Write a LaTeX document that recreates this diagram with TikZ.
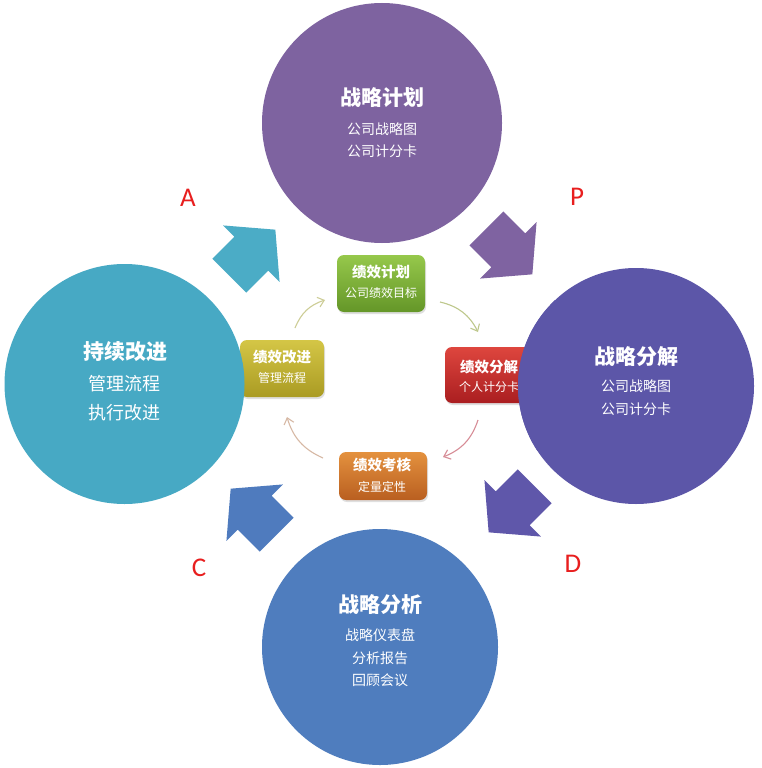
\documentclass[tikz,border=0pt]{standalone}
\usepackage{fontspec}
\newfontfamily\cjk{Noto Sans CJK SC}
\newfontfamily\latn{Carlito}
\usetikzlibrary{arrows.meta,shadows}
\definecolor{cTop}{RGB}{126,99,160}
\definecolor{cRight}{RGB}{92,86,168}
\definecolor{cBot}{RGB}{79,125,190}
\definecolor{cLeft}{RGB}{71,169,196}
\definecolor{aA}{RGB}{75,172,198}
\definecolor{aP}{RGB}{127,99,161}
\definecolor{aC}{RGB}{79,123,190}
\definecolor{aD}{RGB}{95,87,170}
\definecolor{lblred}{RGB}{232,30,30}
\definecolor{gT}{RGB}{150,200,75}\definecolor{gB}{RGB}{100,150,40}
\definecolor{rT}{RGB}{222,70,62}\definecolor{rB}{RGB}{170,30,32}
\definecolor{oT}{RGB}{228,145,62}\definecolor{oB}{RGB}{185,95,32}
\definecolor{yT}{RGB}{212,198,70}\definecolor{yB}{RGB}{170,155,35}
\definecolor{l1}{RGB}{190,200,140}
\definecolor{l2}{RGB}{215,140,150}
\definecolor{l3}{RGB}{215,185,165}
\definecolor{l4}{RGB}{205,205,150}
\newcommand\blockarr[4]{\fill[#4, shift={(#1,#2)}, rotate=#3] (-32,-24) -- (-1,-24) -- (-1,-40) -- (33,0) -- (-1,40) -- (-1,24) -- (-32,24) -- cycle;}
\tikzset{
  bigcirc/.style={circle, minimum size=#1, inner sep=0pt},
  ctitle/.style={text=white, font=\cjk\bfseries\fontsize{21}{21}\selectfont},
  csub/.style={text=white, font=\cjk\fontsize{14}{14}\selectfont},
  csubL/.style={text=white, font=\cjk\fontsize{18}{18}\selectfont},
  sbox/.style={rounded corners=7pt, minimum width=88pt, minimum height=#1, inner sep=0pt,
    drop shadow={opacity=0.25, shadow xshift=1pt, shadow yshift=-2pt}},
  btitle/.style={text=white, font=\cjk\bfseries\fontsize{14.5}{14.5}\selectfont},
  bsub/.style={text=white, font=\cjk\fontsize{12}{12}\selectfont},
  thin/.style={line width=1.1pt, -{Straight Barb[length=6pt,width=10pt]}, bend left=25},
  letter/.style={text=lblred, font=\latn\fontsize{27}{27}\selectfont}
}
\begin{document}
\begin{tikzpicture}[x=1pt,y=-1pt]
\useasboundingbox (0,0) rectangle (762,768);
\fill[white] (0,0) rectangle (762,768);
% small boxes (under circles)
\node[sbox=57pt, top color=gT, bottom color=gB] (g) at (381,283.5) {};
\node[sbox=56pt, top color=rT, bottom color=rB] (r) at (489,375) {};
\node[sbox=48pt, top color=oT, bottom color=oB] (o) at (383,476) {};
\node[sbox=57pt, minimum width=84pt, top color=yT, bottom color=yB] (y) at (282,368.5) {};
% block arrows
\blockarr{252}{253}{45}{aA}
\blockarr{509}{251}{-45}{aP}
\blockarr{254}{512}{135}{aC}
\blockarr{512}{509}{-135}{aD}
% circles
\node[bigcirc=240pt, fill=cTop] (plan) at (382,123) {};
\node[bigcirc=236pt, fill=cRight] (dec) at (636,386) {};
\node[bigcirc=236pt, fill=cBot] (ana) at (380,647) {};
\node[bigcirc=240pt, fill=cLeft] (imp) at (124.5,384) {};
% circle texts
\node[ctitle] (t1) at (382,98) {战略计划};
\node[csub] (t1a) at (382,129) {公司战略图};
\node[csub] (t1b) at (382,151) {公司计分卡};
\node[ctitle] (t2) at (636,357) {战略分解};
\node[csub] (t2a) at (636,386) {公司战略图};
\node[csub] (t2b) at (636,409) {公司计分卡};
\node[ctitle] (t3) at (380,605) {战略分析};
\node[csub] (t3a) at (380,635) {战略仪表盘};
\node[csub] (t3b) at (380,658) {分析报告};
\node[csub] (t3c) at (380,680) {回顾会议};
\node[ctitle] (t4) at (125,352) {持续改进};
\node[csubL] (t4a) at (124,384) {管理流程};
\node[csubL] (t4b) at (124,413) {执行改进};
% box texts
\node[btitle] (g1) at (381,272) {绩效计划};
\node[bsub] (g2) at (381,293) {公司绩效目标};
\node[btitle] (r1) at (489,367) {绩效分解};
\node[bsub] (r2) at (489,387) {个人计分卡};
\node[btitle] (o1) at (382,465) {绩效考核};
\node[bsub] (o2) at (382,487) {定量定性};
\node[btitle] (y1) at (282,357) {绩效改进};
\node[bsub] (y2) at (282,378) {管理流程};
% right circle covers the red box's right end
\begin{scope}
\clip (400,300) rectangle (560,450);
\fill[cRight] (dec.center) circle (118pt);
\end{scope}
% thin curved arrows
\coordinate (s1) at (440,302); \coordinate (e1) at (478,332);
\coordinate (s2) at (478,420); \coordinate (e2) at (443,457);
\coordinate (s3) at (323,458); \coordinate (e3) at (287,417);
\coordinate (s4) at (295,328); \coordinate (e4) at (325,300);
\draw[thin, l1] (s1) to (e1);
\draw[thin, l2] (s2) to (e2);
\draw[thin, l3] (s3) to (e3);
\draw[thin, l4] (s4) to (e4);
% letters
\node[letter] (A) at (188,198) {A};
\node[letter] (P) at (577,197) {P};
\node[letter] (C) at (199,568) {C};
\node[letter] (D) at (573,564) {D};
\end{tikzpicture}
\end{document}
